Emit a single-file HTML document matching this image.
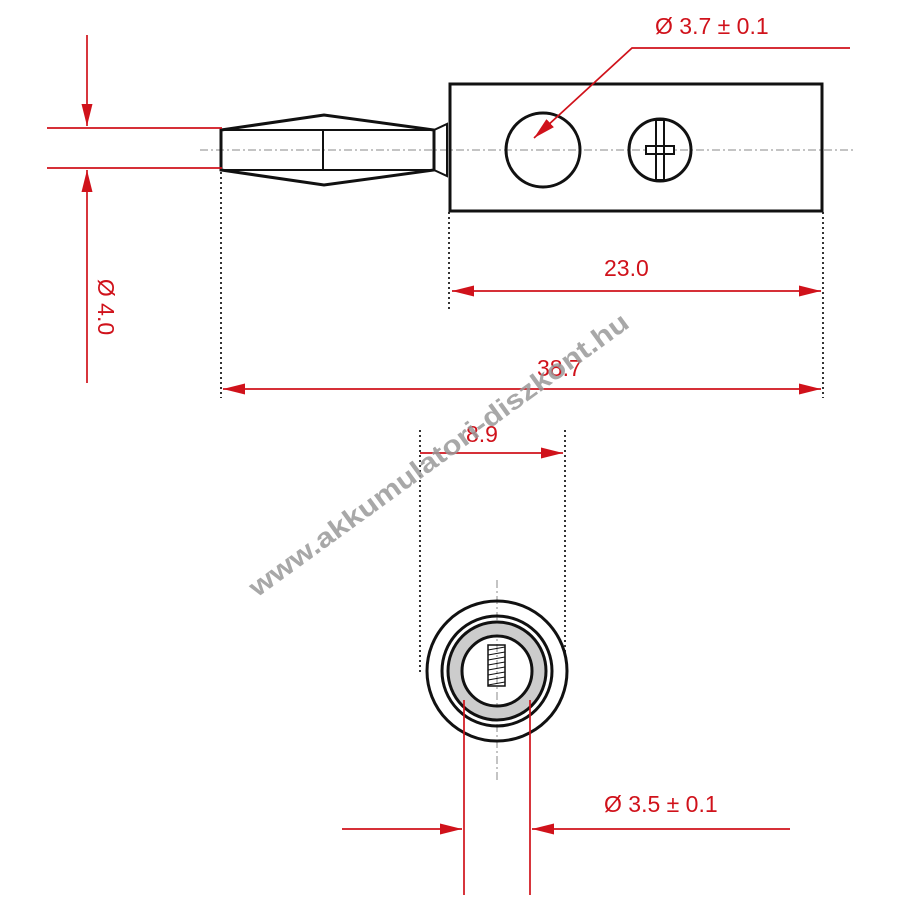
<!DOCTYPE html>
<html><head><meta charset="utf-8"><style>html,body{margin:0;padding:0;background:#fff}svg{display:block}</style></head>
<body>
<svg width="900" height="900" viewBox="0 0 900 900" xmlns="http://www.w3.org/2000/svg" font-family="Liberation Sans, sans-serif">
<defs>
<marker id="b" viewBox="0 0 20 10" refX="20" refY="5" markerWidth="22" markerHeight="11" markerUnits="userSpaceOnUse" orient="auto-start-reverse"><path d="M0,0 L20,5 L0,10z" fill="#d0121b"/></marker>
</defs>
<g stroke="#888" stroke-width="1" stroke-dasharray="8,3,2,3" fill="none">
<line x1="200" y1="150" x2="855" y2="150"/>
<line x1="497" y1="580" x2="497" y2="780"/>
</g>
<g stroke="#333" stroke-width="2" stroke-dasharray="2,3" fill="none">
<line x1="221" y1="172" x2="221" y2="398"/>
<line x1="449" y1="212" x2="449" y2="312"/>
<line x1="823" y1="212" x2="823" y2="398"/>
<line x1="420" y1="430" x2="420" y2="672"/>
<line x1="565" y1="430" x2="565" y2="660"/>
</g>
<g stroke="#111" stroke-width="3" fill="none">
<rect x="450" y="84" width="372" height="127"/>
<circle cx="543" cy="150" r="37"/>
<circle cx="660" cy="150" r="31"/>
<path d="M656,120 V180 H664 V120z M646,146 V154 H674 V146z" stroke-width="2" fill="#fff"/>
<path d="M221,130 L324,115 L434,130 L434,170 L324,185 L221,170 Z"/>
<line x1="221" y1="130" x2="434" y2="130" stroke-width="2"/>
<line x1="221" y1="170" x2="434" y2="170" stroke-width="2"/>
<line x1="323" y1="130" x2="323" y2="170" stroke-width="2"/>
<path d="M434,130 L447,124 L447,176 L434,170" stroke-width="2"/>
</g>
<g stroke="#111" stroke-width="3" fill="none">
<circle cx="497" cy="671" r="70"/>
<circle cx="497" cy="671" r="55"/>
<circle cx="497" cy="671" r="42" stroke="#ccc" stroke-width="14"/>
<circle cx="497" cy="671" r="49"/>
<circle cx="497" cy="671" r="35"/>
<rect x="488" y="645" width="17" height="41" stroke-width="1.5"/>
<path d="M488,650 L505,647 M488,655 L505,652 M488,660 L505,657 M488,665 L505,662 M488,670 L505,667 M488,675 L505,672 M488,680 L505,677 M488,685 L505,682" stroke-width="1"/>
</g>
<g stroke="#d0121b" stroke-width="1.7" fill="none">
<line x1="47" y1="128" x2="222" y2="128"/>
<line x1="47" y1="168" x2="222" y2="168"/>
<line x1="87" y1="35" x2="87" y2="126" marker-end="url(#b)"/>
<line x1="87" y1="383" x2="87" y2="170" marker-end="url(#b)"/>
<line x1="452" y1="291" x2="821" y2="291" marker-start="url(#b)" marker-end="url(#b)"/>
<line x1="223" y1="389" x2="821" y2="389" marker-start="url(#b)" marker-end="url(#b)"/>
<line x1="420" y1="453" x2="563" y2="453" marker-end="url(#b)"/>
<polyline points="850,48 632,48 534,138" marker-end="url(#b)"/>
<line x1="464" y1="700" x2="464" y2="895"/>
<line x1="530" y1="700" x2="530" y2="895"/>
<line x1="342" y1="829" x2="462" y2="829" marker-end="url(#b)"/>
<line x1="790" y1="829" x2="532" y2="829" marker-end="url(#b)"/>
</g>
<g fill="#d0121b" font-size="23">
<text x="655" y="34">Ø 3.7 ± 0.1</text>
<text x="604" y="276">23.0</text>
<text x="537" y="376">38.7</text>
<text x="466" y="442">8.9</text>
<text x="604" y="812">Ø 3.5 ± 0.1</text>
<text transform="translate(98,307) rotate(90)" text-anchor="middle" font-size="23">Ø 4.0</text>
</g>
<text transform="translate(444,462) rotate(-36)" text-anchor="middle" font-size="27" font-weight="bold" fill="#999" fill-opacity="0.85" textLength="462" lengthAdjust="spacingAndGlyphs">www.akkumulatori-diszkont.hu</text>
</svg>
</body></html>
